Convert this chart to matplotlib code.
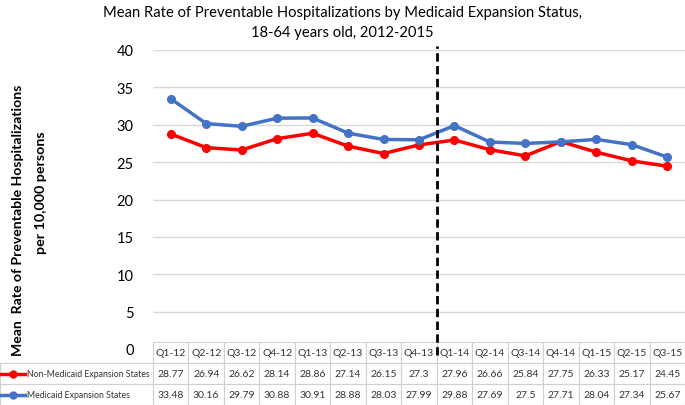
import matplotlib
matplotlib.use("Agg")
import matplotlib.pyplot as plt
from matplotlib.lines import Line2D

quarters = ["Q1-12", "Q2-12", "Q3-12", "Q4-12", "Q1-13", "Q2-13", "Q3-13", "Q4-13",
            "Q1-14", "Q2-14", "Q3-14", "Q4-14", "Q1-15", "Q2-15", "Q3-15"]
non_expansion = [28.77, 26.94, 26.62, 28.14, 28.86, 27.14, 26.15, 27.3,
                 27.96, 26.66, 25.84, 27.75, 26.33, 25.17, 24.45]
expansion = [33.48, 30.16, 29.79, 30.88, 30.91, 28.88, 28.03, 27.99,
             29.88, 27.69, 27.5, 27.71, 28.04, 27.34, 25.67]
non_label = "Non-Medicaid Expansion States"
exp_label = "Medicaid Expansion States"
yticks = [0, 5, 10, 15, 20, 25, 30, 35, 40]

plt.rcParams['font.family'] = ['Lato', 'DejaVu Sans']

W, H = 685, 406
fig = plt.figure(figsize=(W / 100, H / 100), dpi=100)
L, R, B, T = 153, 685, 350, 51
ax = fig.add_axes([L / W, 1 - B / H, (R - L) / W, (B - T) / H])

red = "#FF0000"
blue = "#4472C4"
x = list(range(len(quarters)))
ax.plot(x, non_expansion, color=red, lw=2.5, marker="o", ms=5.5, zorder=3)
ax.plot(x, expansion, color=blue, lw=2.5, marker="o", ms=5.5, zorder=3)

ax.set_xlim(-0.5, len(quarters) - 0.5)
ax.set_ylim(0, 40)
ax.set_yticks(yticks)
ax.set_xticks([])
ax.tick_params(axis="y", length=0, labelsize=10.5, pad=14, colors="#000000")
ax.grid(axis="y", color="#D9D9D9", lw=1)
for s in ax.spines.values():
    s.set_visible(False)

ax.axvline(7.5, ymin=-0.02, ymax=1.013, color="black", lw=2, ls=(0, (3, 1.6)), clip_on=False, zorder=4)

fig.text(0.5, 1 - 23 / H, "Mean Rate of Preventable Hospitalizations by Medicaid Expansion Status,\n18-64 years old, 2012-2015",
         ha="center", va="center", fontsize=10.6, linespacing=1.55)

fig.text(18 / W, 1 - 220 / H, "Mean  Rate of Preventable Hospitalizations", rotation=90,
         ha="center", va="center", fontsize=10.1, fontweight="bold")
fig.text(41 / W, 1 - 193 / H, "per 10,000 persons", rotation=90,
         ha="center", va="center", fontsize=10.3, fontweight="bold")

# table
cell_text = [[""] + quarters,
             [non_label] + [f"{v:g}" for v in non_expansion],
             [exp_label] + [f"{v:g}" for v in expansion]]
axw = R - L
axh = B - T
y0 = (B - 406) / axh
th = (406 - 343) / axh
colw = [L / W] + [(R - L) / len(quarters) / W] * len(quarters)
tbl = ax.table(cellText=cell_text, colWidths=colw, cellLoc="center",
               bbox=[-L / axw, y0, W / axw, th])
tbl.auto_set_font_size(False)
tbl.set_fontsize(7.5)
for (r, c), cell in tbl.get_celld().items():
    cell.set_edgecolor("#D0D0D0")
    cell.set_linewidth(0.8)
    cell.get_text().set_color("#333333")
    if c == 0:
        cell._loc = "left"
        cell.get_text().set_ha("left")
        cell.PAD = 0.175
        cell.get_text().set_fontsize(6.35)
    if r == 0 and c == 0:
        cell.visible_edges = ""

# legend keys in table
fig.canvas.draw()
for r, col in [(1, red), (2, blue)]:
    cell = tbl.get_celld()[(r, 0)]
    bb = cell.get_window_extent(fig.canvas.get_renderer())
    yc = (bb.y0 + bb.y1) / 2 / fig.dpi / (H / 100)
    fig.add_artist(Line2D([1 / W, 25 / W], [yc, yc], color=col, lw=2.5, transform=fig.transFigure))
    fig.add_artist(Line2D([13 / W], [yc], color=col, marker="o", ms=5, transform=fig.transFigure))

fig.savefig("out.png", dpi=100)
